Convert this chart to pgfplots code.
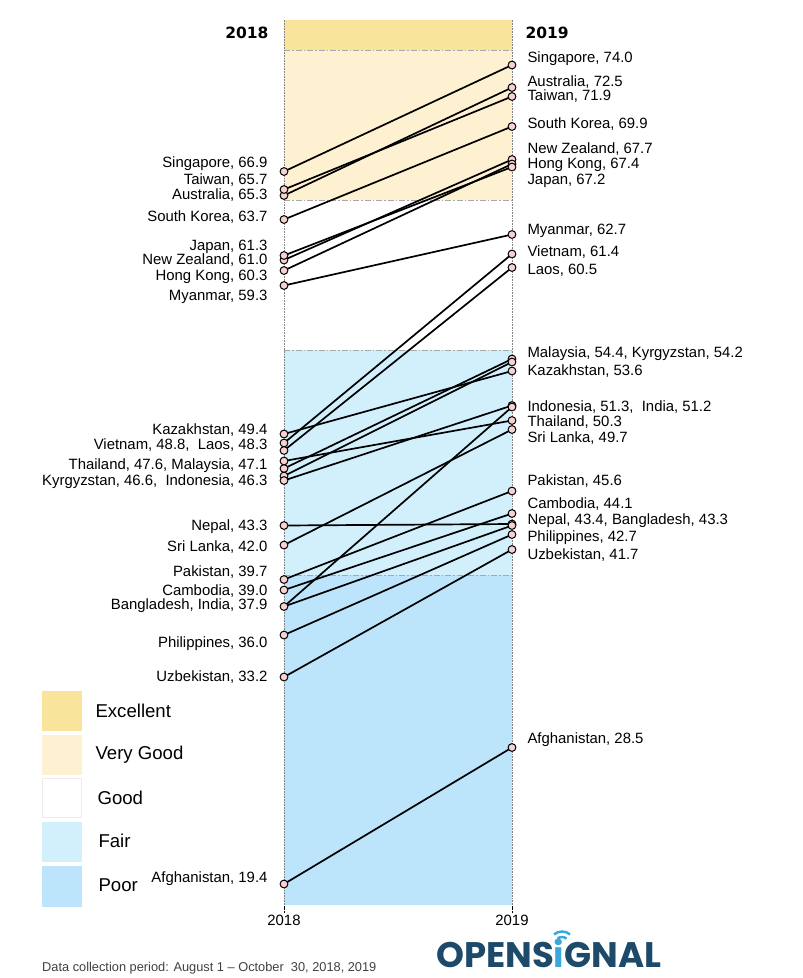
\documentclass[border=0pt]{standalone}
\usepackage{pgfplots}
\pgfplotsset{compat=1.18}
\usepackage{fontspec}
\setmainfont{Liberation Sans}
\newfontfamily\dejavu{DejaVu Sans}
\newfontfamily\logofont{Poppins}
\definecolor{exc}{HTML}{F9E49B}
\definecolor{vgood}{HTML}{FDF1D1}
\definecolor{fair}{HTML}{D2F0FC}
\definecolor{poor}{HTML}{BCE4FA}
\definecolor{mk}{HTML}{F8D2D2}
\definecolor{bandline}{HTML}{A8A8A8}
\definecolor{logodark}{HTML}{1D4A6A}
\definecolor{logolight}{HTML}{3AA8DD}
\newcommand{\labfont}{\fontsize{14.9}{16}\selectfont}
\newcommand{\labL}[2]{\node[anchor=east, font=\labfont, xshift=-13pt] at (axis cs:2018,#1) {#2};}
\newcommand{\labR}[2]{\node[anchor=west, font=\labfont, xshift=12pt] at (axis cs:2019,#1) {#2};}
\begin{document}
\begin{tikzpicture}
\path[use as bounding box] (0,0) rectangle (803pt,-978pt);
\begin{axis}[
  at={(284pt,-905pt)}, anchor=south west,
  scale only axis, width=228pt, height=885pt,
  xmin=2018, xmax=2019, ymin=18, ymax=77,
  clip=false, hide y axis,
  axis line style={draw=none},
  xtick={2018,2019}, xticklabels={2018,2019},
  xtick pos=bottom, tick align=outside, major tick length=7pt,
  xtick style={densely dotted, black, line width=0.6pt},
  x tick label style={font=\labfont},
  /pgf/number format/assume math mode=true,
  conn/.style={black, line width=1.7pt, mark=none},
]
% quality bands
\addplot[fill=poor, draw=none] coordinates {(2018,18) (2019,18) (2019,40) (2018,40) (2018,18)};
\addplot[fill=fair, draw=none] coordinates {(2018,40) (2019,40) (2019,55) (2018,55) (2018,40)};
\addplot[fill=vgood, draw=none] coordinates {(2018,65) (2019,65) (2019,75) (2018,75) (2018,65)};
\addplot[fill=exc, draw=none] coordinates {(2018,75) (2019,75) (2019,77) (2018,77) (2018,75)};
% band boundaries
\addplot[bandline, line width=0.8pt, dash pattern=on 6pt off 2pt on 1.5pt off 2pt] coordinates {(2018,75) (2019,75)};
\addplot[bandline, line width=0.8pt, dash pattern=on 6pt off 2pt on 1.5pt off 2pt] coordinates {(2018,65) (2019,65)};
\addplot[bandline, line width=0.8pt, dash pattern=on 6pt off 2pt on 1.5pt off 2pt] coordinates {(2018,55) (2019,55)};
\addplot[bandline, line width=0.8pt, dash pattern=on 6pt off 2pt on 1.5pt off 2pt] coordinates {(2018,40) (2019,40)};
% vertical guides
\addplot[gray, densely dotted, line width=0.6pt] coordinates {(2018,18) (2018,77)};
\addplot[gray, densely dotted, line width=0.6pt] coordinates {(2019,18) (2019,77)};
% slopes
\addplot[conn] coordinates {(2018,66.9) (2019,74.0)};
\addplot[conn] coordinates {(2018,65.3) (2019,72.5)};
\addplot[conn] coordinates {(2018,65.7) (2019,71.9)};
\addplot[conn] coordinates {(2018,63.7) (2019,69.9)};
\addplot[conn] coordinates {(2018,61.0) (2019,67.7)};
\addplot[conn] coordinates {(2018,60.3) (2019,67.4)};
\addplot[conn] coordinates {(2018,61.3) (2019,67.2)};
\addplot[conn] coordinates {(2018,59.3) (2019,62.7)};
\addplot[conn] coordinates {(2018,48.8) (2019,61.4)};
\addplot[conn] coordinates {(2018,48.3) (2019,60.5)};
\addplot[conn] coordinates {(2018,47.1) (2019,54.4)};
\addplot[conn] coordinates {(2018,46.6) (2019,54.2)};
\addplot[conn] coordinates {(2018,49.4) (2019,53.6)};
\addplot[conn] coordinates {(2018,46.3) (2019,51.3)};
\addplot[conn] coordinates {(2018,37.9) (2019,51.2)};
\addplot[conn] coordinates {(2018,47.6) (2019,50.3)};
\addplot[conn] coordinates {(2018,42.0) (2019,49.7)};
\addplot[conn] coordinates {(2018,39.7) (2019,45.6)};
\addplot[conn] coordinates {(2018,39.0) (2019,44.1)};
\addplot[conn] coordinates {(2018,43.3) (2019,43.4)};
\addplot[conn] coordinates {(2018,37.9) (2019,43.3)};
\addplot[conn] coordinates {(2018,36.0) (2019,42.7)};
\addplot[conn] coordinates {(2018,33.2) (2019,41.7)};
\addplot[conn] coordinates {(2018,19.4) (2019,28.5)};
% markers
\addplot[only marks, mark=*, mark size=3.9pt, mark options={fill=mk, draw=black, line width=1pt}] coordinates {
(2018,66.9) (2018,65.3) (2018,65.7) (2018,63.7) (2018,61.0) (2018,60.3) (2018,61.3) (2018,59.3)
(2018,48.8) (2018,48.3) (2018,47.1) (2018,46.6) (2018,49.4) (2018,46.3) (2018,37.9) (2018,47.6)
(2018,42.0) (2018,39.7) (2018,39.0) (2018,43.3) (2018,36.0) (2018,33.2) (2018,19.4)
(2019,74.0) (2019,72.5) (2019,71.9) (2019,69.9) (2019,67.7) (2019,67.4) (2019,67.2) (2019,62.7)
(2019,61.4) (2019,60.5) (2019,54.4) (2019,54.2) (2019,53.6) (2019,51.3) (2019,51.2) (2019,50.3)
(2019,49.7) (2019,45.6) (2019,44.1) (2019,43.4) (2019,43.3) (2019,42.7) (2019,41.7) (2019,28.5)};
% year titles
\node[anchor=east, xshift=-12pt, font=\dejavu\bfseries\fontsize{15.5}{17}\selectfont] at (axis cs:2018,76.13) {2018};
\node[anchor=west, xshift=10pt, font=\dejavu\bfseries\fontsize{15.5}{17}\selectfont] at (axis cs:2019,76.13) {2019};
% 2018 labels
\labL{67.4}{Singapore, 66.9}
\labL{66.3}{Taiwan, 65.7}
\labL{65.3}{Australia, 65.3}
\labL{63.84}{South Korea, 63.7}
\labL{61.89}{Japan, 61.3}
\labL{61.0}{New Zealand, 61.0}
\labL{59.89}{Hong Kong, 60.3}
\labL{58.53}{Myanmar, 59.3}
\labL{49.67}{Kazakhstan, 49.4}
\labL{48.67}{Vietnam, 48.8,\ \ Laos, 48.3}
\labL{47.29}{Thailand, 47.6, Malaysia, 47.1}
\labL{46.22}{Kyrgyzstan, 46.6,\ \ Indonesia, 46.3}
\labL{43.22}{Nepal, 43.3}
\labL{41.89}{Sri Lanka, 42.0}
\labL{40.18}{Pakistan, 39.7}
\labL{38.95}{Cambodia, 39.0}
\labL{37.95}{Bangladesh, India, 37.9}
\labL{35.4}{Philippines, 36.0}
\labL{33.2}{Uzbekistan, 33.2}
\labL{19.75}{Afghanistan, 19.4}
% 2019 labels
\labR{74.4}{Singapore, 74.0}
\labR{72.89}{Australia, 72.5}
\labR{71.9}{Taiwan, 71.9}
\labR{70.07}{South Korea, 69.9}
\labR{68.4}{New Zealand, 67.7}
\labR{67.33}{Hong Kong, 67.4}
\labR{66.27}{Japan, 67.2}
\labR{62.93}{Myanmar, 62.7}
\labR{61.53}{Vietnam, 61.4}
\labR{60.33}{Laos, 60.5}
\labR{54.73}{Malaysia, 54.4, Kyrgyzstan, 54.2}
\labR{53.62}{Kazakhstan, 53.6}
\labR{51.22}{Indonesia, 51.3,\ \ India, 51.2}
\labR{50.22}{Thailand, 50.3}
\labR{49.15}{Sri Lanka, 49.7}
\labR{46.27}{Pakistan, 45.6}
\labR{44.73}{Cambodia, 44.1}
\labR{43.6}{Nepal, 43.4, Bangladesh, 43.3}
\labR{42.47}{Philippines, 42.7}
\labR{41.33}{Uzbekistan, 41.7}
\labR{29.0}{Afghanistan, 28.5}
\end{axis}
% legend
\fill[exc] (42pt,-691pt) rectangle (82pt,-731pt);
\fill[vgood] (42pt,-735pt) rectangle (82pt,-775pt);
\draw[gray!15, line width=1pt, fill=white] (42.5pt,-778.5pt) rectangle (81.5pt,-817.5pt);
\fill[fair] (42pt,-822pt) rectangle (82pt,-862pt);
\fill[poor] (42pt,-866pt) rectangle (82pt,-907pt);
\begin{scope}[every node/.style={anchor=west, font=\fontsize{18.6}{20}\selectfont}]
\node at (92pt,-711pt) {Excellent};
\node at (92pt,-755pt) {Very Good};
\node at (94pt,-798pt) {Good};
\node at (95pt,-841pt) {Fair};
\node at (95pt,-885pt) {Poor};
\end{scope}
% footer
\node[anchor=base west, text=black!75, font=\fontsize{12.8}{14}\selectfont, inner sep=0pt] at (42pt,-971pt) {Data collection period: August 1 -- October\ \ 30, 2018, 2019};
\node[anchor=base west, inner sep=0pt, font=\logofont\bfseries\fontsize{35.5}{36}\selectfont, text=logodark] at (436pt,-967pt) {OPENS{\color{logolight}i}GNAL};
\draw[logolight, line width=2.5pt] (562pt,-944pt) ++(50:7pt) arc (50:130:7pt);
\draw[logolight, line width=2.5pt] (562pt,-944pt) ++(50:12.5pt) arc (50:130:12.5pt);
\end{tikzpicture}
\end{document}
